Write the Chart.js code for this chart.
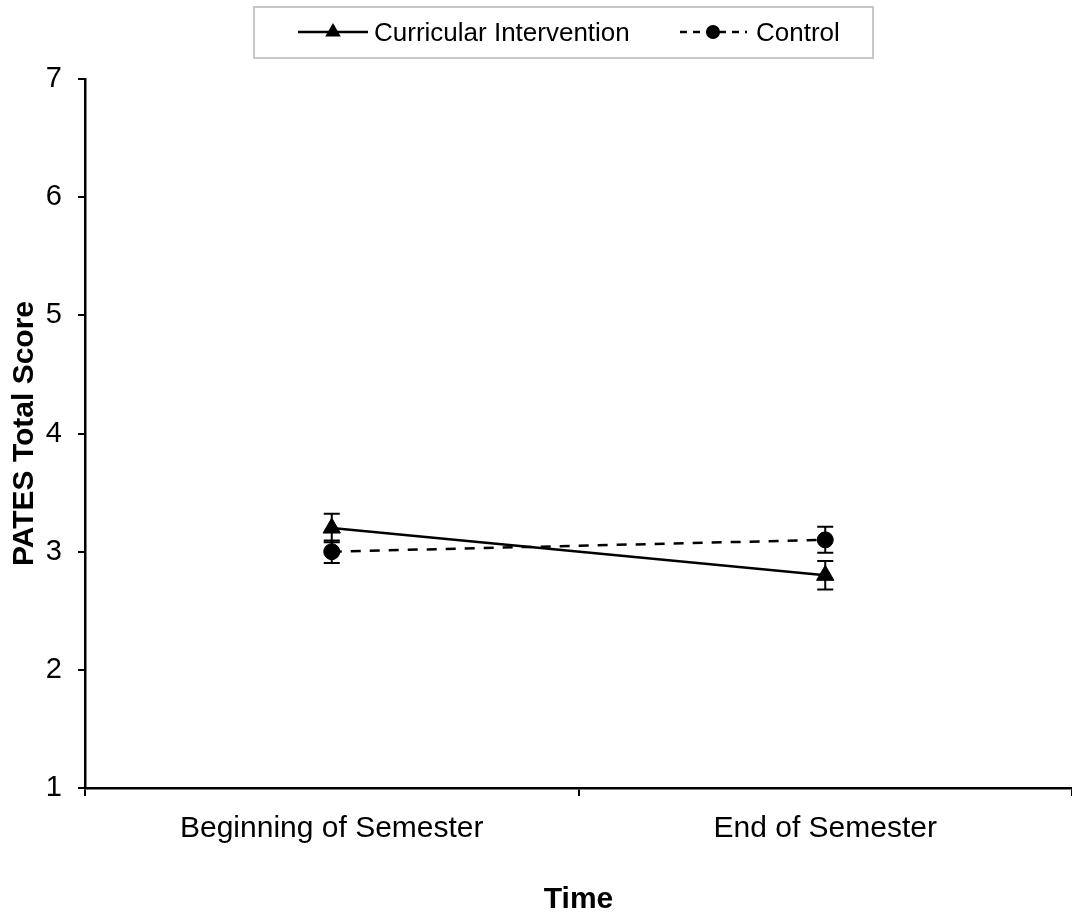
<!DOCTYPE html>
<html>
<head>
<meta charset="utf-8">
<script src="https://cdn.jsdelivr.net/npm/chart.js@4.4.0/dist/chart.umd.min.js"></script>
<style>
  html, body { margin: 0; padding: 0; background: #fff; }
  #wrap { width: 1072px; height: 918px; }
</style>
</head>
<body>
<div id="wrap"><canvas id="patesChart" width="1072" height="918"></canvas></div>
<script>
const categories = ['Beginning of Semester', 'End of Semester'];
const curricularMeans = [3.2, 2.8];
const curricularErrors = [0.12, 0.12];
const controlMeans = [3.0, 3.1];
const controlErrors = [0.095, 0.11];
const yTickValues = [1, 2, 3, 4, 5, 6, 7];

const FONT = '"Liberation Sans", Arial, sans-serif';

// vertical error bars with caps, drawn from the dataset's errors
const errorBars = {
    id: 'errorBars',
    afterDatasetsDraw(chart) {
        const ctx = chart.ctx;
        const y = chart.scales.y;
        chart.data.datasets.forEach((ds, i) => {
            const meta = chart.getDatasetMeta(i);
            meta.data.forEach((pt, j) => {
                const v = ds.data[j];
                const e = ds.errors[j];
                const top = y.getPixelForValue(v + e);
                const bot = y.getPixelForValue(v - e);
                ctx.save();
                ctx.strokeStyle = '#000';
                ctx.lineWidth = 2;
                ctx.beginPath();
                ctx.moveTo(pt.x, top);
                ctx.lineTo(pt.x, bot);
                ctx.moveTo(pt.x - 8, top);
                ctx.lineTo(pt.x + 8, top);
                ctx.moveTo(pt.x - 8, bot);
                ctx.lineTo(pt.x + 8, bot);
                ctx.stroke();
                ctx.restore();
            });
        });
    }
};

function drawMarker(ctx, style, x, y, r) {
    ctx.beginPath();
    if (style === 'triangle') {
        ctx.moveTo(x, y - r);
        ctx.lineTo(x + r * 0.866, y + r / 2);
        ctx.lineTo(x - r * 0.866, y + r / 2);
        ctx.closePath();
    } else {
        ctx.arc(x, y, r, 0, Math.PI * 2);
    }
    ctx.fill();
}

// boxed legend at the top, line + marker + label
const boxLegend = {
    id: 'boxLegend',
    afterDraw(chart) {
        const ctx = chart.ctx;
        const items = [
            { x0: 298, x1: 368, mx: 333, tx: 374, dash: [], r: 9 },
            { x0: 680, x1: 747, mx: 713, tx: 756, dash: [7, 6], r: 7 }
        ];
        const ly = 32;
        ctx.save();
        ctx.strokeStyle = '#c8c8c8';
        ctx.lineWidth = 2;
        ctx.strokeRect(254, 7, 619, 51);
        chart.data.datasets.forEach((ds, i) => {
            const it = items[i];
            ctx.strokeStyle = '#000';
            ctx.fillStyle = '#000';
            ctx.lineWidth = 2.5;
            ctx.setLineDash(it.dash);
            ctx.beginPath();
            ctx.moveTo(it.x0, ly);
            ctx.lineTo(it.x1, ly);
            ctx.stroke();
            ctx.setLineDash([]);
            drawMarker(ctx, ds.pointStyle, it.mx, ly, it.r);
            ctx.font = '26px ' + FONT;
            ctx.textBaseline = 'middle';
            ctx.textAlign = 'left';
            ctx.fillText(ds.label, it.tx, ly + 2);
        });
        ctx.restore();
    }
};

const ctx = document.getElementById('patesChart').getContext('2d');
new Chart(ctx, {
    type: 'line',
    data: {
        labels: categories,
        datasets: [
            {
                label: 'Curricular Intervention',
                data: curricularMeans,
                errors: curricularErrors,
                borderColor: '#000',
                backgroundColor: '#000',
                borderWidth: 2.5,
                pointStyle: 'triangle',
                pointRadius: 10,
                pointBorderWidth: 1,
                tension: 0,
            },
            {
                label: 'Control',
                data: controlMeans,
                errors: controlErrors,
                borderColor: '#000',
                backgroundColor: '#000',
                borderWidth: 2.5,
                borderDash: [10, 9],
                pointStyle: 'circle',
                pointRadius: 8,
                pointBorderWidth: 1,
                tension: 0,
            },
        ],
    },
    options: {
        responsive: false,
        animation: false,
        layout: {
            autoPadding: false,
            padding: { top: 79, right: 0, bottom: 0, left: 0 },
        },
        scales: {
            x: {
                type: 'category',
                offset: true,
                grid: {
                    offset: true,
                    drawOnChartArea: false,
                    drawTicks: true,
                    tickLength: 8,
                    // last tick sits on the canvas edge, the original cuts it off
                    color: (c) => (c.index === categories.length ? 'rgba(0,0,0,0)' : '#000'),
                    lineWidth: 2,
                },
                border: { display: true, color: '#000', width: 2.5 },
                ticks: {
                    color: '#000',
                    font: { family: FONT, size: 30 },
                    padding: 15,
                    maxRotation: 0,
                },
                title: {
                    display: true,
                    text: 'Time',
                    color: '#000',
                    font: { family: FONT, size: 30, weight: 'bold' },
                    padding: { top: 0, bottom: 0 },
                },
                afterFit(scale) {
                    scale.height = 130;
                    scale.paddingLeft = 0;
                    scale.paddingRight = 0;
                },
            },
            y: {
                min: 1,
                max: 7,
                afterBuildTicks(scale) {
                    scale.ticks = yTickValues.map(v => ({ value: v }));
                },
                grid: {
                    drawOnChartArea: false,
                    drawTicks: true,
                    tickLength: 7,
                    color: '#000',
                    lineWidth: 2,
                },
                border: { display: true, color: '#000', width: 2.5 },
                ticks: {
                    color: '#000',
                    font: { family: FONT, size: 29 },
                    padding: 16,
                },
                title: {
                    display: true,
                    text: 'PATES Total Score',
                    color: '#000',
                    font: { family: FONT, size: 30, weight: 'bold' },
                    padding: { top: 7, bottom: 0 },
                },
                afterFit(scale) { scale.width = 85; },
            },
        },
        plugins: {
            legend: { display: false },
            tooltip: { enabled: false },
        },
    },
    plugins: [errorBars, boxLegend],
});
</script>
</body>
</html>
